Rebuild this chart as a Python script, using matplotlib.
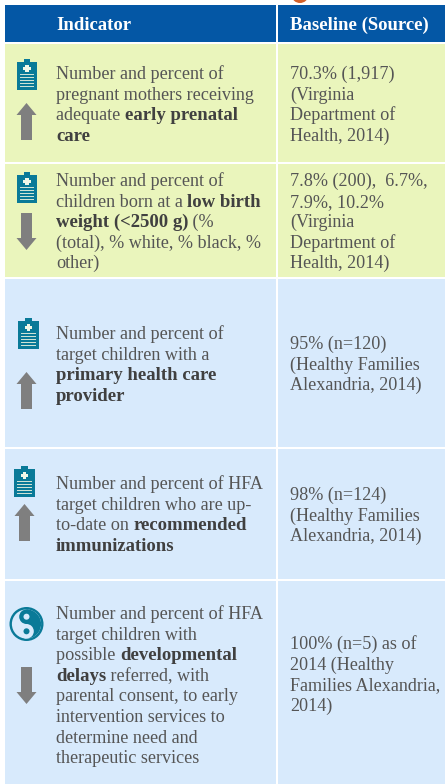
import re
import matplotlib
matplotlib.use("Agg")
import matplotlib.pyplot as plt
from matplotlib.patches import Rectangle, Polygon, Circle, Wedge, Ellipse

headers = ["Indicator", "Baseline (Source)"]
indicators = [
    ["Number and percent of", "pregnant mothers receiving", "adequate **early prenatal**", "**care**"],
    ["Number and percent of", "children born at a **low birth**", "**weight (<2500 g)** (%", "(total), % white, % black, %", "other)"],
    ["Number and percent of", "target children with a", "**primary health care**", "**provider**"],
    ["Number and percent of HFA", "target children who are up-", "to-date on **recommended**", "**immunizations**"],
    ["Number and percent of HFA", "target children with", "possible **developmental**", "**delays** referred, with", "parental consent, to early",
     "intervention services to", "determine need and", "therapeutic services"],
]
baselines = [
    ["70.3% (1,917)", "(Virginia", "Department of", "Health, 2014)"],
    ["7.8% (200),  6.7%,", "7.9%, 10.2%", "(Virginia", "Department of", "Health, 2014)"],
    ["95% (n=120)", "(Healthy Families", "Alexandria, 2014)"],
    ["98% (n=124)", "(Healthy Families", "Alexandria, 2014)"],
    ["100% (n=5) as of", "2014 (Healthy", "Families Alexandria,", "2014)"],
]
directions = ["up", "down", "up", "up", "down"]
icons = ["clip", "clip", "clip", "clip", "yin"]

row_top = [44, 164, 279, 449, 581]
row_bot = [162, 277, 447, 579, 784]
row_col = ["#EAF5BC", "#EAF5BC", "#D8EAFC", "#D8EAFC", "#D8EAFC"]
ind_first = [79, 186, 339, 489, 619]
base_first = [79, 186, 349, 500, 649]
clip_xy = [(16.5, 59), (16.5, 172), (18, 318), (14, 466)]
arrow_xy = [(26.5, 103), (26.5, 213), (26.5, 372), (24.5, 504), (26.5, 667)]

FONT = "Liberation Serif"
FS = 13.1
STEP = 20.6
TXT = "#555555"
BOLD = "#404040"
TEAL = "#0A7A98"
GRAY = "#7F7F7F"

fig = plt.figure(figsize=(4.45, 7.84), dpi=100, facecolor="white")
ax = fig.add_axes([0, 0, 1, 1])
ax.set_xlim(0, 445)
ax.set_ylim(784, 0)
ax.axis("off")
rend = fig.canvas.get_renderer()


def runs(x, y, s):
    for i, part in enumerate(re.split(r"\*\*", s)):
        if not part:
            continue
        bold = i % 2 == 1
        t = ax.text(x, y, part, family=FONT, fontsize=FS + (0.4 if bold else 0), va="baseline", ha="left",
                    fontweight="bold" if bold else "normal", color=BOLD if bold else TXT)
        x += t.get_window_extent(rend).width


def clipboard(x, y):
    ax.add_patch(Rectangle((x, y + 3), 20.5, 28, fc=TEAL, ec="none"))
    ax.add_patch(Rectangle((x + 7, y), 6.5, 5, fc=TEAL, ec="none"))
    ax.add_patch(Rectangle((x + 8.5, y + 6), 3.5, 7, fc="#F2F8E8", ec="none"))
    ax.add_patch(Rectangle((x + 6.5, y + 8), 7.5, 3, fc="#F2F8E8", ec="none"))
    for k in range(5):
        ax.add_patch(Rectangle((x + 3, y + 14.5 + k * 3), 14.5, 1.6, fc="#CFE3D5", ec="none"))


def arrow(cx, top, kind):
    h, hw, sw, hh = 37, 10, 5.5, 12
    if kind == "up":
        pts = [(cx, top), (cx + hw, top + hh), (cx + sw, top + hh), (cx + sw, top + h),
               (cx - sw, top + h), (cx - sw, top + hh), (cx - hw, top + hh)]
    else:
        b = top + h
        pts = [(cx, b), (cx + hw, b - hh), (cx + sw, b - hh), (cx + sw, top),
               (cx - sw, top), (cx - sw, b - hh), (cx - hw, b - hh)]
    ax.add_patch(Polygon(pts, closed=True, fc=GRAY, ec="none"))


def yin(cx, cy, r):
    bg = "#D8EAFC"
    rr = r - 2.4
    ax.add_patch(Circle((cx, cy), r, fc=TEAL, ec="none"))
    ax.add_patch(Circle((cx, cy), rr, fc=bg, ec="none"))
    # axis is inverted, so angles -90..90 still open to the right
    ax.add_patch(Wedge((cx, cy), rr, -90, 90, fc=TEAL, ec="none"))
    ax.add_patch(Circle((cx, cy - rr / 2), rr / 2, fc=TEAL, ec="none"))
    ax.add_patch(Circle((cx, cy + rr / 2), rr / 2, fc=bg, ec="none"))
    ax.add_patch(Circle((cx, cy - rr / 2), 3, fc=bg, ec="none"))
    ax.add_patch(Circle((cx, cy + rr / 2), 3, fc=TEAL, ec="none"))


ax.add_patch(Ellipse((300, -4), 16, 14, fc="#D2602A", ec="none", clip_on=True))

# header
ax.add_patch(Rectangle((5, 5), 271, 37, fc="#0457A5", ec="none"))
ax.add_patch(Rectangle((278, 5), 167, 37, fc="#0457A5", ec="none"))
ax.text(56, 30, headers[0], family=FONT, fontsize=13.5, fontweight="bold", color="white", va="baseline")
ax.text(290, 30, headers[1], family=FONT, fontsize=13.5, fontweight="bold", color="white", va="baseline")

for i in range(5):
    h = row_bot[i] - row_top[i]
    ax.add_patch(Rectangle((5, row_top[i]), 271, h, fc=row_col[i], ec="none"))
    ax.add_patch(Rectangle((278, row_top[i]), 167, h, fc=row_col[i], ec="none"))
    for k, line in enumerate(indicators[i]):
        runs(56, ind_first[i] + k * STEP, line)
    for k, line in enumerate(baselines[i]):
        runs(290, base_first[i] + k * STEP, line)
    if icons[i] == "clip":
        clipboard(*clip_xy[i])
    else:
        yin(26.5, 624, 17)
    arrow(arrow_xy[i][0], arrow_xy[i][1], directions[i])

fig.savefig("out.png", dpi=100, facecolor="white")
